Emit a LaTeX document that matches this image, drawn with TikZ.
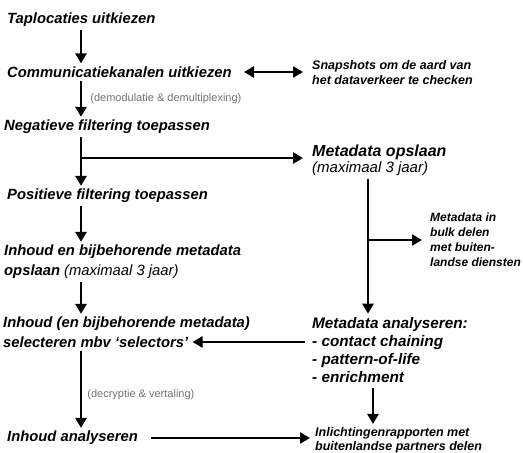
\documentclass[tikz,border=0pt]{standalone}
\usepackage{fontspec}
\setmainfont{Liberation Sans}
\usetikzlibrary{arrows.meta}

\tikzset{
	stap/.style={anchor=west,inner sep=0pt,align=left,font=\fontsize{14.8}{18}\selectfont\bfseries\itshape},
	klein/.style={anchor=west,inner sep=0pt,align=left,font=\fontsize{12.5}{15}\selectfont\bfseries\itshape},
	opm/.style={anchor=west,inner sep=0pt,font=\fontsize{11}{13}\selectfont,text=black!55},
	pijl/.style={line width=2.8pt,-{Triangle[length=10pt,width=11pt]},shorten <=3pt,shorten >=3pt},
}

\begin{document}
\begin{tikzpicture}[x=1pt,y=-1pt]
		\useasboundingbox (0,0) rectangle (523,453);
		\coordinate (s) at (81,0);
		\coordinate (r) at (368,0);
		\coordinate (r2) at (373,0);
		% linker kolom
		\node [stap] (tap) at (7,20) {Taplocaties uitkiezen};
		\node [stap] (comm) at (7,72) {Communicatiekanalen uitkiezen};
		\node [stap] (neg) at (4,127) {Negatieve filtering toepassen};
		\node [stap] (pos) at (7,196) {Positieve filtering toepassen};
		\node [stap,font=\fontsize{14.8}{20}\selectfont\bfseries\itshape] (opsl) at (4,262)
			{Inhoud en bijbehorende metadata\\opslaan {\mdseries(maximaal 3 jaar)}};
		\node [stap] (sel1) at (3,324) {Inhoud (en bijbehorende metadata)};
		\node [stap] (sel2) at (3,342) {selecteren mbv `selectors'};
		\node [stap] (ana) at (7,438) {Inhoud analyseren};
		% rechter kolom
		\node [klein] (snap) at (312,72.5) {Snapshots om de aard van\\het dataverkeer te checken};
		\node [stap,font=\fontsize{16}{16}\selectfont\bfseries\itshape] (mopsl) at (312,160)
			{Metadata opslaan\\{\fontsize{15}{16}\selectfont\mdseries(maximaal 3 jaar)}};
		\node [klein,font=\fontsize{12}{15}\selectfont\bfseries\itshape] (bulk) at (430,239.5)
			{Metadata in\\bulk delen\\met buiten-\\landse diensten};
		\node [stap,font=\fontsize{15.3}{18.3}\selectfont\bfseries\itshape] (mana) at (312,350)
			{Metadata analyseren:\\- contact chaining\\- pattern-of-life\\- enrichment};
		\node [klein,font=\fontsize{12.5}{14}\selectfont\bfseries\itshape] (rap) at (315,440)
			{Inlichtingenrapporten met\\buitenlandse partners delen};
		% pijlen links
		\draw [pijl] (tap.south -| s) -- (comm.north -| s);
		\draw [pijl] (comm.south -| s) -- (neg.north -| s)
			node [opm, midway, xshift=8pt] (demod) {(demodulatie \& demultiplexing)};
		\draw [pijl] (neg.south -| s) -- (pos.north -| s);
		\draw [pijl] (pos.south -| s) -- (opsl.north -| s);
		\draw [pijl] (opsl.south -| s) -- (sel1.north -| s);
		\draw [pijl] (sel2.south -| s) -- (ana.north -| s)
			node [opm, midway, xshift=5pt, yshift=-5pt] (decr) {(decryptie \& vertaling)};
		% dwarsverbindingen
		\draw [pijl,{Triangle[length=10pt,width=11pt]}-{Triangle[length=10pt,width=11pt]},shorten <=12pt,shorten >=9pt]
			(comm.east) -- (comm.east -| snap.west);
		\coordinate (j1) at (81,158);
		\draw [pijl,shorten <=0pt,shorten >=9pt] (j1) -- (j1 -| mopsl.west);
		\draw [pijl] (mopsl.south -| r) -- (mana.north -| r);
		\coordinate (j2) at (368,240);
		\draw [pijl,shorten <=0pt,shorten >=8pt] (j2) -- (j2 -| bulk.west);
		\draw [pijl,shorten <=7pt,shorten >=4pt] (mana.west |- sel2.east) -- (sel2.east);
		\draw [pijl,shorten <=5pt] (mana.south -| r2) -- (rap.north -| r2);
		\draw [pijl,shorten <=13pt,shorten >=5pt] (ana.east) -- (ana.east -| rap.west);
	\end{tikzpicture}
\end{document}
